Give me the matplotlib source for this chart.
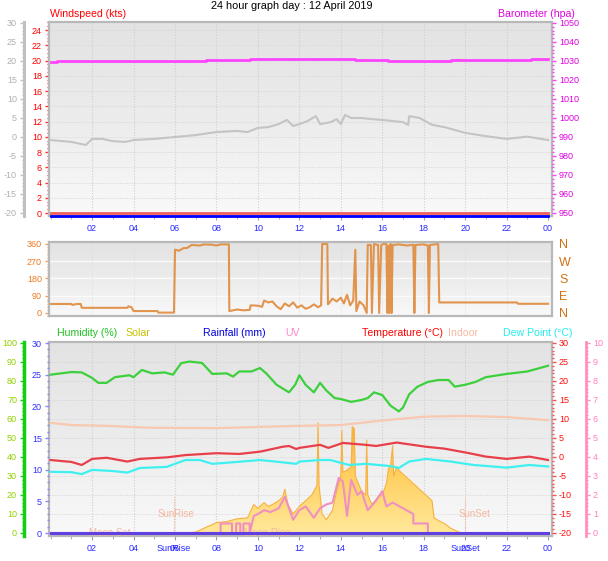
import numpy as np
import matplotlib
matplotlib.use("Agg")
import matplotlib.pyplot as plt
from matplotlib import transforms
from matplotlib.ticker import MultipleLocator, FixedLocator
from matplotlib.colors import LinearSegmentedColormap

plt.rcParams['font.family'] = ['Liberation Sans', 'DejaVu Sans']
plt.rcParams['axes.unicode_minus'] = False

# ---------------- data (hours of the day) ----------------
title = "24 hour graph day : 12 April 2019"
hour_ticks = [2, 4, 6, 8, 10, 12, 14, 16, 18, 20, 22, 24]
hour_labels = ["02", "04", "06", "08", "10", "12", "14", "16", "18", "20", "22", "00"]

# top panel
wind_hours = [0, 24]
wind_speed = [0, 0]
wind_gust = [0, 0]

baro_hours = [0, 0.3, 0.3, 7.5, 7.5, 9.6, 9.6, 14.7, 14.7, 16.3, 16.3, 19.3, 19.3, 23.2, 23.2, 24]
baro = [1029.3, 1029.3, 1029.8, 1029.8, 1030.3, 1030.3, 1030.8, 1030.8,
        1030.3, 1030.3, 1029.8, 1029.8, 1030.3, 1030.3, 1030.9, 1030.9]

chill_hours = [0, 1.0, 1.7, 2.0, 2.5, 3.0, 3.6, 4.0, 5.0, 6.0, 7.0, 8.0, 9.0, 9.5, 10.0, 10.5,
               11.0, 11.4, 11.7, 12.0, 12.4, 12.8, 13.0, 13.5, 13.8, 14.0, 14.2, 14.5, 15.0,
               15.5, 16.0, 16.5, 17.0, 17.25, 17.3, 17.8, 18.4, 19.0, 20.0, 20.9, 22.0, 23.0, 24.0]
chill = [-0.8, -1.3, -2.1, -0.5, -0.5, -1.1, -1.3, -0.8, -0.5, 0.0, 0.5, 1.3, 1.6, 1.3, 2.4, 2.6,
         3.4, 4.5, 2.9, 3.4, 4.2, 5.5, 3.4, 3.9, 4.7, 3.4, 5.8, 5.0, 5.0,
         4.7, 4.5, 4.2, 3.9, 3.2, 5.5, 5.0, 3.2, 2.6, 1.1, 0.3, -0.5, 0.1, -0.8]

# middle panel: wind direction (degrees)
dir_hours = [0.0, 1.0, 1.05, 1.25, 1.45, 1.5, 3.7, 3.75, 3.9, 4.0, 5.15, 5.2, 5.95, 6.0, 6.2, 6.4,
             6.6, 6.8, 7.2, 7.4, 7.8, 8.0, 8.2, 8.6, 8.62, 9.0, 9.3, 9.6, 9.65, 10.0, 10.2, 10.3,
             10.5, 10.7, 10.9, 11.1, 11.3, 11.5, 11.7, 11.9, 12.1, 12.3, 12.5, 12.7, 12.9, 13.05,
             13.1, 13.35, 13.38, 13.6, 13.8, 14.0, 14.15, 14.3, 14.45, 14.6, 14.7, 14.75, 14.9,
             15.1, 15.25, 15.3, 15.45, 15.5, 15.6, 15.8, 15.85, 15.95, 16.05, 16.2, 16.25, 16.3,
             16.35, 16.4, 16.45, 16.5, 16.8, 17.2, 17.5, 17.55, 17.6, 18.0, 18.2, 18.25, 18.3,
             18.7, 18.75, 22.5, 22.55, 24.0]
wind_dir = [47, 47, 42, 47, 47, 27, 27, 35, 30, 10, 10, 2, 2, 330, 325, 338,
            340, 355, 352, 358, 356, 352, 358, 358, 10, 18, 14, 16, 40, 38, 32, 65,
            55, 60, 35, 20, 50, 35, 55, 28, 40, 22, 30, 45, 30, 40,
            360, 360, 45, 75, 60, 80, 50, 95, 40, 65, 330, 10, 60,
            40, 0, 355, 355, 0, 360, 355, 0, 355, 360, 360, 0, 350,
            0, 360, 0, 355, 358, 352, 356, 0, 355, 358, 352, 0, 355,
            360, 55, 55, 48, 48]

# bottom panel
hum_hours = [0, 0.5, 1, 1.5, 2, 2.3, 2.7, 3.1, 3.8, 4.0, 4.4, 4.9, 5.5, 5.9, 6.3, 6.7, 7.3, 7.8,
             8.5, 8.8, 9.1, 9.7, 10.1, 10.4, 10.9, 11.5, 11.8, 12.0, 12.3, 12.7, 13.0, 13.3,
             13.7, 14.0, 14.5, 15.0, 15.3, 15.6, 16.0, 16.4, 16.8, 17.0, 17.3, 17.7, 18.2, 18.7,
             19.2, 19.5, 20.0, 20.5, 21.0, 22.0, 23.0, 24.0]
humidity = [83.3, 84, 84.7, 84.5, 81.6, 79, 79, 82, 83, 82, 85.8, 84, 84.5, 83.3, 89.4, 90.2, 89.5, 83.7,
            84, 82.3, 85, 85, 86.8, 84, 78, 74, 78, 83, 78, 74, 79, 75,
            71, 70.5, 69, 70, 71, 74, 72.6, 67, 64, 66, 73, 77, 79.5, 80.5,
            80.5, 77, 78, 79.5, 82, 83.7, 85, 88]

temp_hours = [0, 1, 1.5, 2, 2.7, 3.7, 4.3, 5.6, 6.5, 8, 9.1, 10.1, 11.2, 11.5, 11.85, 12, 13,
              13.4, 14.1, 15.2, 15.7, 16.7, 18.1, 19, 20.1, 21, 22, 23.1, 24]
temperature = [-0.8, -1.3, -2.1, -0.5, -0.2, -1.2, -0.5, -0.1, 0.5, 1.0, 0.8, 1.4, 2.7, 2.9, 2.1, 2.4, 3.2,
               2.4, 3.7, 3.2, 2.9, 3.8, 2.7, 2.2, 1.1, 0.1, -0.5, 0.1, -0.8]

indoor_hours = [0, 1, 2.7, 4.75, 8, 10, 12, 14, 15, 16, 18, 20, 22, 24]
indoor = [9.0, 8.4, 8.2, 7.7, 7.6, 7.9, 8.2, 8.4, 9.0, 9.6, 10.6, 10.8, 10.5, 9.7]

dew_hours = [0, 1, 1.5, 2, 3, 3.7, 4.3, 5.6, 6.3, 6.5, 7.2, 7.8, 9, 10.1, 11, 11.85, 12, 13,
             13.5, 14.4, 15.2, 16.4, 16.8, 17.3, 18.1, 19.3, 20.4, 22, 23.1, 24]
dew_point = [-3.9, -4.0, -4.5, -3.4, -3.7, -4.1, -2.9, -2.6, -1.2, -0.8, -0.8, -1.8, -1.3, -0.8, -1.3, -1.8,
             -1.2, -0.8, -0.8, -2.1, -1.8, -2.4, -2.9, -1.2, -0.5, -1.2, -2.1, -2.8, -2.1, -2.5]

solar_hours = [0, 6.6, 7.0, 7.5, 8.0, 8.5, 9.0, 9.5, 9.8, 10.0, 10.3, 10.5, 10.7, 11.0, 11.2, 11.3,
               11.45, 11.7, 12.0, 12.3, 12.6, 12.85, 12.9, 12.95, 13.1, 13.3, 13.6, 13.8, 14.0,
               14.05, 14.1, 14.3, 14.5, 14.55, 14.65, 14.7, 15.0, 15.2, 15.25, 15.3, 15.5, 15.8,
               16.0, 16.2, 16.3, 16.4, 16.5, 16.55, 16.7, 16.8, 17.0, 17.3, 17.6, 17.9, 18.2,
               18.4, 18.5, 18.8, 19.0, 19.3, 19.6, 19.8, 24]
solar = [0, 0, 5, 30, 55, 60, 75, 80, 150, 130, 160, 140, 150, 170, 190, 230,
         150, 100, 140, 170, 200, 250, 580, 250, 100, 70, 120, 220, 300,
         540, 320, 330, 350, 560, 550, 300, 220, 200, 490, 200, 150, 190,
         200, 260, 340, 350, 460, 300, 350, 330, 310, 280, 250, 220, 190,
         170, 80, 60, 50, 25, 10, 0, 0]

uv_hours = [0, 8.2, 8.2, 8.75, 8.75, 8.95, 8.95, 9.15, 9.15, 9.3, 9.3, 9.6, 9.6, 9.8, 10.0, 10.3,
            10.6, 11.0, 11.3, 11.5, 11.7, 12.0, 12.3, 12.7, 13.0, 13.3, 13.6, 13.9, 14.1, 14.3,
            14.5, 14.8, 15.0, 15.3, 15.7, 16.0, 16.2, 16.5, 17.5, 17.5, 18.2, 18.2, 24]
uv = [0, 0, 0.5, 0.5, 0, 0, 0.5, 0.5, 0, 0, 0.5, 0.5, 0, 0.9, 1.0, 1.2,
      1.1, 1.3, 1.9, 1.3, 0.7, 1.2, 1.4, 0.8, 1.3, 1.5, 1.6, 2.9, 2.7, 0.9,
      2.8, 2.0, 2.2, 1.2, 1.7, 2.2, 1.4, 1.6, 1.0, 0.5, 0.5, 0, 0]

rain_hours = [0, 24]
rainfall = [0, 0]

sunrise_h = 5.95
sunset_h = 20.0

# ---------------- figure ----------------
W, H = 608, 561
PT = 0.72  # points per pixel at 100 dpi
fig = plt.figure(figsize=(W / 100, H / 100), dpi=100)
fig.patch.set_facecolor('white')
XLIM = (-0.08, 24.19)
LEFT, RIGHT = 49, 552


def rect(top, bottom):
    return [LEFT / W, 1 - bottom / H, (RIGHT - LEFT) / W, (bottom - top) / H]


bg_cmap = LinearSegmentedColormap.from_list('bg', ['#e3e3e3', '#ececec', '#f9f9f9'])


def background(r):
    bg = fig.add_axes(r, zorder=-5)
    bg.imshow(np.linspace(0, 1, 256).reshape(-1, 1), cmap=bg_cmap, aspect='auto',
              extent=[0, 1, 0, 1])
    bg.set_axis_off()


def frame(ax):
    ax.set_facecolor('none')
    for s in ax.spines.values():
        s.set_color('#b8b8b8')
        s.set_linewidth(1.6)


def hide_spines(ax):
    for s in ax.spines.values():
        s.set_visible(False)


def time_axis(ax, labels=True):
    ax.set_xlim(*XLIM)
    ax.xaxis.set_major_locator(FixedLocator(hour_ticks))
    ax.xaxis.set_minor_locator(MultipleLocator(1))
    ax.set_xticklabels(hour_labels if labels else [])
    ax.tick_params(axis='x', which='both', colors='#a0a0a0', labelcolor='#2828ff',
                   labelsize=6.5, pad=3)
    ax.tick_params(axis='x', which='major', length=3)
    ax.tick_params(axis='x', which='minor', length=2)
    for h in hour_ticks[:-1]:
        ax.axvline(h, color='#cfcfcf', lw=0.8, ls=(0, (1, 1.5)), zorder=0)


def yaxis_style(ax, color, labelcolor=None, major=None, minor=None):
    ax.tick_params(axis='y', which='both', colors=color, labelsize=6.5,
                   labelcolor=labelcolor or color, pad=2)
    ax.tick_params(axis='y', which='major', length=3, width=1)
    ax.tick_params(axis='y', which='minor', length=1.6, width=1)
    if major:
        ax.yaxis.set_major_locator(MultipleLocator(major))
    if minor:
        ax.yaxis.set_minor_locator(MultipleLocator(minor))


# ---------- top panel: windspeed / barometer ----------
r_top = rect(22, 216)
background(r_top)
ax_ws = fig.add_axes(r_top)
frame(ax_ws)
time_axis(ax_ws)
ax_ws.set_ylim(-0.39, 25.05)
yaxis_style(ax_ws, '#ff3030', '#ff0000', 2, 0.5)
for v in range(2, 25, 2):
    ax_ws.axhline(v, color='#d6d6d6', lw=0.7, ls=(0, (1, 1.5)), zorder=0)
ax_ws.plot(wind_hours, wind_speed, color='#f06060', lw=2, zorder=3, clip_on=False)
gust_tr = transforms.offset_copy(ax_ws.transData, fig=fig, y=-3, units='dots')
ax_ws.plot(wind_hours, wind_gust, color='#0000ff', lw=2, transform=gust_tr, zorder=3,
           clip_on=False)

ax_grey = ax_ws.twinx()
hide_spines(ax_grey)
ax_grey.yaxis.tick_left()
ax_grey.spines['left'].set_visible(True)
ax_grey.spines['left'].set_position(('outward', 25 * PT))
ax_grey.spines['left'].set_color('#c0c0c0')
ax_grey.spines['left'].set_linewidth(2.2)
ax_grey.set_ylim(-20.79, 30.26)
yaxis_style(ax_grey, '#c0c0c0', '#b0b0b0', 5, 1)
ax_grey.plot(chill_hours, chill, color='#c4c4c4', lw=1.5)

ax_baro = ax_ws.twinx()
hide_spines(ax_baro)
ax_baro.set_ylim(948.4, 1050.5)
yaxis_style(ax_baro, '#ff40ff', '#e000e0', 10, 2)
ax_baro.plot(baro_hours, baro, color='#ff44ff', lw=2)
ax_ws.set_xlim(*XLIM)

# ---------- middle panel: wind direction ----------
r_mid = rect(242, 316)
background(r_mid)
ax_dir = fig.add_axes(r_mid)
frame(ax_dir)
ax_dir.set_xlim(*XLIM)
ax_dir.set_xticks([])
ax_dir.set_ylim(-15.7, 370.4)
ax_dir.set_yticks([0, 90, 180, 270, 360])
ax_dir.yaxis.set_minor_locator(MultipleLocator(15))
yaxis_style(ax_dir, '#f0a060', '#f07820')
for v in [90, 180, 270]:
    ax_dir.axhline(v, color='#fbfbfb', lw=1, zorder=0)
for h in hour_ticks[:-1]:
    ax_dir.axvline(h, color='#d8d8d8', lw=0.6, ls=(0, (1, 2)), zorder=0)
ax_dir.plot(dir_hours, wind_dir, color='#e08a3c', lw=1.5, alpha=0.9)

ax_comp = ax_dir.twinx()
hide_spines(ax_comp)
ax_comp.set_ylim(-15.7, 370.4)
ax_comp.set_yticks([0, 90, 180, 270, 360])
ax_comp.set_yticklabels(['N', 'E', 'S', 'W', 'N'])
ax_comp.tick_params(axis='y', length=0, pad=5, labelsize=9, labelcolor='#d07010')

# ---------- bottom panel ----------
r_bot = rect(342, 536)
background(r_bot)
ax_sol = fig.add_axes(r_bot)
frame(ax_sol)
time_axis(ax_sol)
ax_sol.set_yticks([])
for v in range(-15, 30, 5):
    ax_sol.axhline((v + 20.79) / 51.05 * 1021 - 15.7, color='#d4d4d4', lw=0.7,
                   ls=(0, (1, 1.5)), zorder=0)
fill = ax_sol.fill_between(solar_hours, 0, solar, color='none', lw=0)
sol_cmap = LinearSegmentedColormap.from_list('sol', ['#ffe89a', '#ffd060', '#f7a838'])
img = ax_sol.imshow(np.linspace(0, 1, 256).reshape(-1, 1), cmap=sol_cmap, aspect='auto',
                    origin='lower', extent=[0, 24, 0, 600], zorder=1)
img.set_clip_path(fill.get_paths()[0], transform=ax_sol.transData)
ax_sol.plot(solar_hours, solar, color='#f8b040', lw=0.8, zorder=2)
ax_sol.set_xlim(*XLIM)
ax_sol.set_ylim(-15.7, 1005.3)

# sunrise / sunset markers
for h in [sunrise_h, sunset_h]:
    ax_sol.plot([h, h], [0, 190], color='#f0b8a0', lw=0.8, ls=(0, (1, 1)), zorder=2)
ax_sol.text(sunrise_h + 0.1, 100, 'SunRise', color='#f4b8a0', fontsize=7, ha='center',
            va='center')
ax_sol.text(sunset_h + 0.45, 100, 'SunSet', color='#f4b8a0', fontsize=7, ha='center',
            va='center')
ax_sol.text(2.85, 0, 'Moon Set', color='#f4b8a0', fontsize=7, ha='center', va='center',
            zorder=6)
ax_sol.text(10.45, 0, 'Moon Rise', color='#f4b8a0', fontsize=7, ha='center', va='center',
            zorder=6)
tl = transforms.blended_transform_factory(ax_sol.transData, ax_sol.transAxes)
ax_sol.text(sunrise_h, -0.062, 'SunRise', color='#2828ff', fontsize=6.5, ha='center',
            va='center', transform=tl, clip_on=False)
ax_sol.text(sunset_h, -0.062, 'SunSet', color='#2828ff', fontsize=6.5, ha='center',
            va='center', transform=tl, clip_on=False)

ax_rain = ax_sol.twinx()
hide_spines(ax_rain)
ax_rain.yaxis.tick_left()
ax_rain.set_ylim(-0.47, 30.16)
yaxis_style(ax_rain, '#8888ff', '#3030ff', 5, 1)

ax_hum = ax_sol.twinx()
hide_spines(ax_hum)
ax_hum.yaxis.tick_left()
ax_hum.spines['left'].set_visible(True)
ax_hum.spines['left'].set_position(('outward', 25 * PT))
ax_hum.spines['left'].set_color('#10d010')
ax_hum.spines['left'].set_linewidth(2.5)
ax_hum.set_ylim(-1.58, 100.5)
yaxis_style(ax_hum, '#10d010', '#90d000', 10, 2)
ax_hum.plot(hum_hours, humidity, color='#3cd03c', lw=1.6)

ax_temp = ax_sol.twinx()
hide_spines(ax_temp)
ax_temp.set_ylim(-20.79, 30.26)
yaxis_style(ax_temp, '#ff5050', '#ff1010', 5, 1)
ax_temp.plot(indoor_hours, indoor, color='#f8c8b0', lw=1.6)
ax_temp.plot(temp_hours, temperature, color='#e8404a', lw=1.6)
ax_temp.plot(dew_hours, dew_point, color='#40f0f0', lw=1.6)

ax_uv = ax_sol.twinx()
hide_spines(ax_uv)
ax_uv.spines['right'].set_visible(True)
ax_uv.spines['right'].set_position(('outward', 34 * PT))
ax_uv.spines['right'].set_color('#ff90c0')
ax_uv.spines['right'].set_linewidth(2)
ax_uv.set_ylim(-0.158, 10.05)
yaxis_style(ax_uv, '#ff90c0', '#ff80c0', 1, 0.2)
ax_uv.plot(uv_hours, uv, color='#f090c0', lw=1.5)
ax_uv.plot(rain_hours, rainfall, color='#6040e0', lw=2.2)
ax_uv.set_xlim(*XLIM)


# ---------------- titles ----------------
def ftext(x, y, s, color, size=7.6, ha='left'):
    fig.text(x / W, 1 - y / H, s, color=color, fontsize=size, ha=ha, va='center')


ftext(292, 6, title, 'black', 7.8, 'center')
ftext(50, 14, 'Windspeed (kts)', '#ff0000')
ftext(575, 14, 'Barometer (hpa)', '#e000e0', ha='right')
ftext(57, 333, 'Humidity (%)', '#20c020')
ftext(125, 333, 'Solar', '#c8c000')
ftext(203, 333, 'Rainfall (mm)', '#0000e0')
ftext(285, 333, 'UV', '#ff88c8')
ftext(362, 333, 'Temperature (\u00b0C)', '#ff0000')
ftext(448, 333, 'Indoor', '#f8b8a0')
ftext(503, 333, 'Dew Point (\u00b0C)', '#20f0f0')

fig.savefig('out.png', dpi=100)
